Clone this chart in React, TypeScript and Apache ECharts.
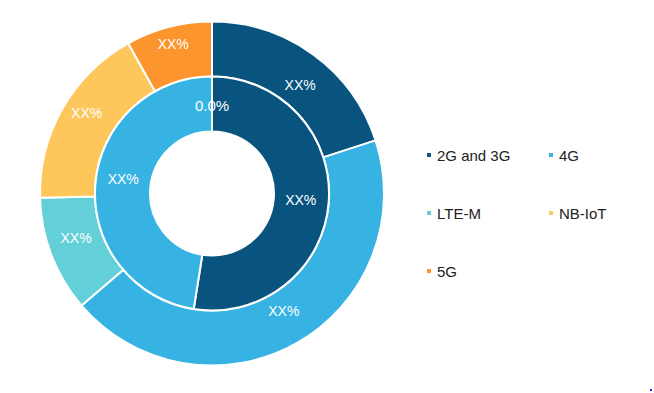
import React, { useEffect, useRef } from "react";
import * as echarts from "echarts";

const categories = ["2G and 3G", "4G", "LTE-M", "NB-IoT", "5G"];
const colors = ["#08547f", "#36b2e3", "#63cfd8", "#fec75c", "#fc952d"];
const outerValues = [20, 43.7, 10.9, 17.3, 8.1];
const innerValues = [52.5, 47.5, 0, 0, 0];
const legendLeftItems = ["2G and 3G", "LTE-M", "5G"];
const legendRightItems = ["4G", "NB-IoT"];

// label placement per slice (layout only): distance from centre and angular nudge in degrees
const outerLabelRadius = [140, 138, 143, 149, 154];
const outerLabelShift = [3, -2, 3, 3, 0];
const innerLabelRadius = [89, 90, 88, 88, 88];
const innerLabelShift = [0, 5, 0, 0, 0];

const CX = 212;
const CY = 193.5;

function midAngles(vals: number[]) {
  const total = vals.reduce((a, b) => a + b, 0);
  let acc = 0;
  return vals.map((v) => {
    const start = acc;
    acc += (v / total) * 360;
    return (start + acc) / 2;
  });
}

export default function App() {
  const ref = useRef<HTMLDivElement>(null);
  useEffect(() => {
    if (!ref.current) return;
    const chart = echarts.init(ref.current, undefined, { renderer: "svg" });
    const FONT = "Liberation Sans, Arial, sans-serif";
    const mk = (vals: number[]) => {
      const firstZero = vals.indexOf(0);
      return categories.map((c, i) => ({
        name: c,
        value: vals[i],
        itemStyle: { color: colors[i] },
        label: vals[i] === 0 ? { fontSize: 15, show: i === firstZero } : {},
      }));
    };
    const labelCfg = {
      show: true,
      position: "inside",
      color: "#ffffff",
      fontSize: 14,
      fontFamily: FONT,
      textBorderWidth: 0,
      formatter: (p: any) => (p.value === 0 ? "0.0%" : "XX%"),
    };
    const legendBase = {
      orient: "vertical",
      itemWidth: 6,
      itemHeight: 6,
      icon: "rect",
      itemGap: 42,
      top: 142,
      textStyle: { fontSize: 15, color: "#222222", fontFamily: FONT, lineHeight: 16 },
    };
    const ring = (radius: number[], vals: number[], labelR: number[], shift: number[]) => {
      const mids = midAngles(vals);
      return {
        type: "pie",
        center: [CX, CY],
        radius,
        startAngle: 90,
        clockwise: true,
        avoidLabelOverlap: false,
        itemStyle: { borderColor: "#ffffff", borderWidth: 2 },
        label: labelCfg,
        labelLine: { show: false },
        labelLayout: (p: any) => {
          const i = p.dataIndex;
          const a = ((mids[i] + shift[i]) * Math.PI) / 180;
          return {
            x: CX + labelR[i] * Math.sin(a),
            y: CY - labelR[i] * Math.cos(a),
            align: "center",
            verticalAlign: "middle",
          };
        },
        emphasis: { disabled: true },
        data: mk(vals),
      };
    };
    chart.setOption({
      animation: false,
      color: colors,
      legend: [
        { ...legendBase, left: 420, data: legendLeftItems },
        { ...legendBase, left: 542, data: legendRightItems },
      ],
      graphic: [
        { type: "rect", shape: { x: 650, y: 389, width: 2, height: 2 }, style: { fill: "#2030ff" } },
      ],
      series: [
        ring([117, 172], outerValues, outerLabelRadius, outerLabelShift),
        ring([62, 117], innerValues, innerLabelRadius, innerLabelShift),
      ],
    });
    return () => chart.dispose();
  }, []);
  return (
    <div
      ref={ref}
      style={{ position: "fixed", left: 0, top: 0, width: 654, height: 393, background: "#ffffff" }}
    />
  );
}
